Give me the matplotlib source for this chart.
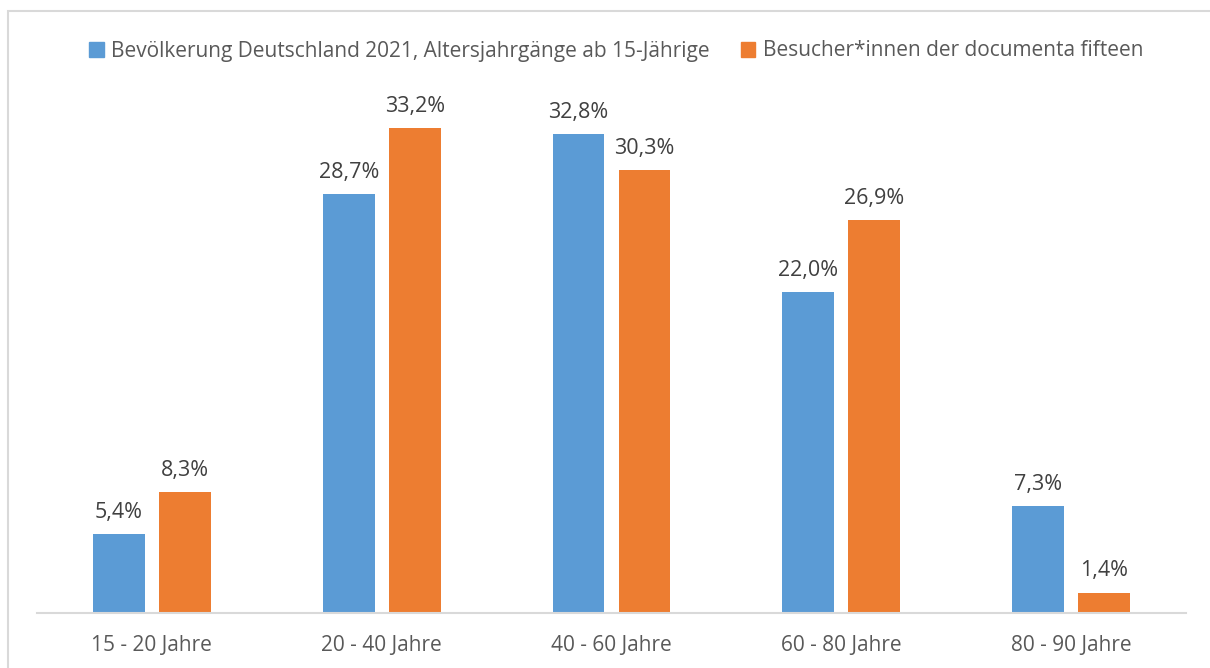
import matplotlib
matplotlib.use("Agg")
import matplotlib.pyplot as plt
from matplotlib.patches import Rectangle, Patch
import numpy as np

categories = ["15 - 20 Jahre", "20 - 40 Jahre", "40 - 60 Jahre", "60 - 80 Jahre", "80 - 90 Jahre"]
bevoelkerung = [5.4, 28.7, 32.8, 22.0, 7.3]
besucher = [8.3, 33.2, 30.3, 26.9, 1.4]
series_names = ["Bevölkerung Deutschland 2021, Altersjahrgänge ab 15-Jährige",
                "Besucher*innen der documenta fifteen"]

BLUE = "#5B9BD5"
ORANGE = "#ED7D31"
TXT = "#595959"
VAL = "#404040"

plt.rcParams['font.family'] = ['Open Sans', 'DejaVu Sans']

fig = plt.figure(figsize=(12.1, 6.68), dpi=100)
fig.patch.set_facecolor("white")
# outer chart border
fig.patches.append(Rectangle((8/1210, -0.1), 1.2, 1 - 11/668 + 0.1, transform=fig.transFigure,
                             fill=False, edgecolor="#D9D9D9", linewidth=1.5))

ax = fig.add_axes([37/1210, 55/668, 1149/1210, (613-101.7)/668])
x = np.arange(len(categories))
w = 0.226
off = 0.1435
b1 = ax.bar(x - off, bevoelkerung, w, color=BLUE)
b2 = ax.bar(x + off, besucher, w, color=ORANGE)

for bars, vals in ((b1, bevoelkerung), (b2, besucher)):
    for rect, v in zip(bars, vals):
        ax.annotate(f"{v:.1f}%".replace(".", ","),
                    (rect.get_x() + rect.get_width()/2, rect.get_height()),
                    xytext=(0, 8), textcoords="offset points",
                    ha="center", va="bottom", fontsize=15.5, color=VAL)

ax.set_xlim(-0.5, len(categories) - 0.5)
ax.set_ylim(0, 35)
ax.set_xticks(x)
ax.set_xticklabels(categories, fontsize=15, color=TXT)
ax.tick_params(axis="x", length=0, pad=16)
ax.set_yticks([])
for s in ("top", "right", "left"):
    ax.spines[s].set_visible(False)
ax.spines["bottom"].set_color("#D9D9D9")
ax.spines["bottom"].set_linewidth(1.5)

handles = [Patch(color=BLUE), Patch(color=ORANGE)]
fig.legend(handles, series_names, loc="center", bbox_to_anchor=(616/1210, 1 - 51/668),
           ncol=2, frameon=False, fontsize=15, labelcolor=TXT,
           handlelength=0.7, handleheight=0.7, handletextpad=0.35, columnspacing=1.5)

fig.savefig("out.png", dpi=100, facecolor="white")
